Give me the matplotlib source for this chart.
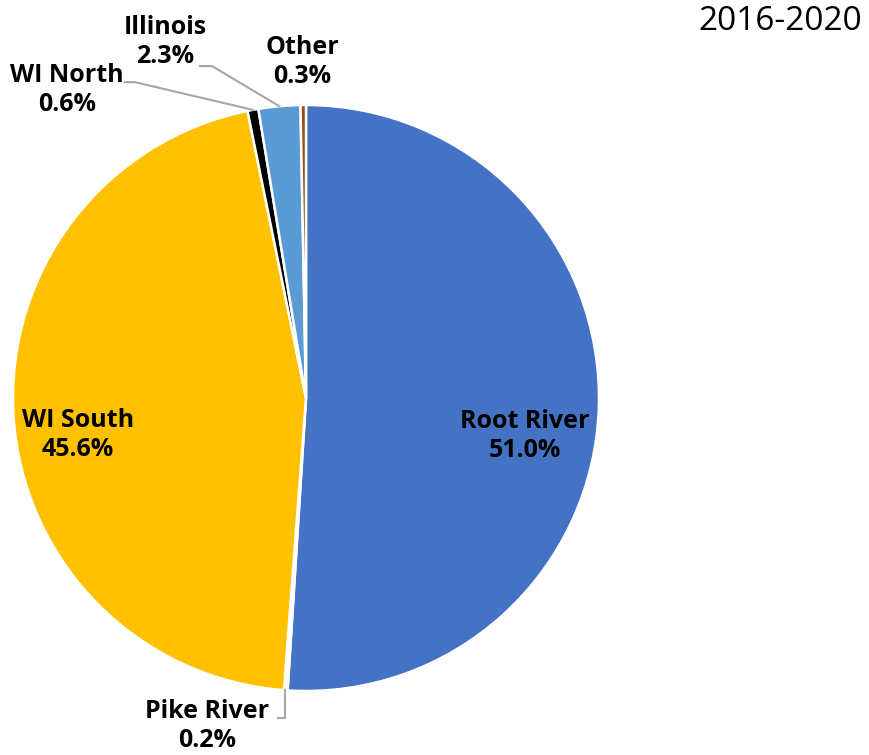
import numpy as np
import matplotlib
matplotlib.use("Agg")
from matplotlib import pyplot as plt

plt.rcParams['font.family'] = ['Open Sans', 'DejaVu Sans']

# source shares, clockwise from 12 o'clock
sources = ["Root River", "Pike River", "WI South", "WI North", "Illinois", "Other"]
shares = [51.0, 0.2, 45.6, 0.6, 2.3, 0.3]
colors = ["#4472C4", "#FFFFFF", "#FFC000", "#000000", "#5B9BD5", "#9E480E"]
period = "2016-2020"

# label centres (data units of the pie, radius 1)
label_pos = {
    "Root River": (0.747, -0.130),
    "WI South": (-0.778, -0.126),
    "Pike River": (-0.338, -1.119),
    "WI North": (-0.816, 1.051),
    "Illinois": (-0.481, 1.215),
    "Other": (-0.014, 1.147),
}
# leader lines: start of line at label, elbow x
leaders = {
    "WI North": ((-0.618, 1.078), -0.584),
    "Illinois": ((-0.362, 1.133), -0.321),
    "Pike River": ((-0.096, -1.092), -0.072),
}

fig = plt.figure(figsize=(8.69, 7.55), dpi=100)
ax = fig.add_axes([13 / 869, 64 / 755, 586 / 869, 586 / 755])

wedges, _ = ax.pie(shares, colors=colors, startangle=90, counterclock=False,
                   radius=1.0, wedgeprops=dict(edgecolor="white", linewidth=1.8))
ax.set_xlim(-1, 1)
ax.set_ylim(-1, 1)
ax.set_aspect("auto")
ax.axis("off")

for name, val in zip(sources, shares):
    x, y = label_pos[name]
    ax.text(x, y, f"{name}\n{val:.1f}%", ha="center", va="center",
            fontsize=18, fontweight="bold", color="black",
            linespacing=1.2, clip_on=False)

cum = np.cumsum([0] + shares[:-1])
for name, (start, ex) in leaders.items():
    i = sources.index(name)
    mid = (cum[i] + shares[i] / 2) / 100 * 2 * np.pi
    px, py = np.sin(mid), np.cos(mid)
    xs = [start[0], ex, ex if name == "Pike River" else px]
    ys = [start[1], start[1], py]
    ax.plot(xs, ys, color="#A6A6A6", linewidth=1.5, clip_on=False)

fig.text(862 / 869, 1 - 22 / 755, period, ha="right", va="center",
         fontsize=24, color="black")

fig.savefig("out.png", dpi=100, facecolor="white")
